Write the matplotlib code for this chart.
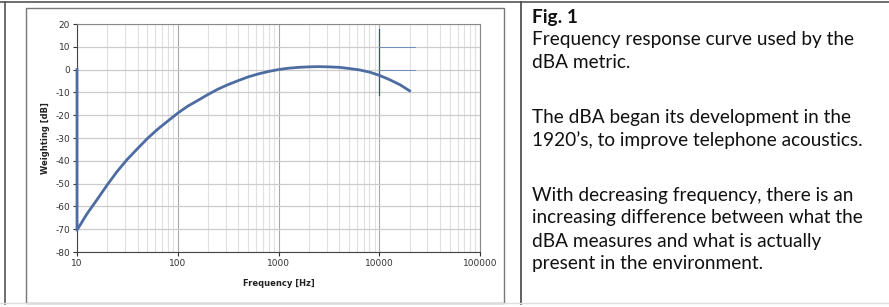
import matplotlib
matplotlib.use('Agg')

import matplotlib.pyplot as plt
from matplotlib.lines import Line2D
from matplotlib.patches import Rectangle
from matplotlib.ticker import FixedLocator, NullFormatter

# A-weighting values
freq = [10, 10, 12.5, 16, 20, 25, 31.5, 40, 50, 63, 80, 100, 125, 160, 200,
        250, 315, 400, 500, 630, 800, 1000, 1250, 1600, 2000, 2500, 3150,
        4000, 5000, 6300, 8000, 10000, 12500, 16000, 20000]
weight = [0, -70.4, -63.4, -56.7, -50.5, -44.7, -39.4, -34.6, -30.2, -26.2,
          -22.5, -19.1, -16.1, -13.4, -10.9, -8.6, -6.6, -4.8, -3.2, -1.9,
          -0.8, 0.0, 0.6, 1.0, 1.2, 1.3, 1.2, 1.0, 0.5, -0.1, -1.1, -2.5,
          -4.3, -6.6, -9.3]

# stray marker lines near 10 kHz
mark_x = [10000, 10000]
mark_y = [18, -11]
hline_x = [10000, 22500]
hline_y = [10, 0]

yticks = [20, 10, 0, -10, -20, -30, -40, -50, -60, -70, -80]
xticks = [10, 100, 1000, 10000, 100000]
xticklabels = ['10', '100', '1000', '10000', '100000']

caption = [('Fig. 1', 'bold', 17),
           ('Frequency response curve used by the', 'normal', 40),
           ('dBA metric.', 'normal', 62),
           ('The dBA began its development in the', 'normal', 118),
           ('1920\u2019s, to improve telephone acoustics.', 'normal', 140),
           ('With decreasing frequency, there is an', 'normal', 196),
           ('increasing difference between what the', 'normal', 218),
           ('dBA measures and what is actually', 'normal', 241),
           ('present in the environment.', 'normal', 264)]

W, H = 889, 307


def fx(px):
    return px / W


def fy(py):
    return 1 - py / H


fig = plt.figure(figsize=(W / 100, H / 100), dpi=100)

# table borders
fig.add_artist(Line2D([0, 1], [fy(1.5), fy(1.5)], color='#555555', lw=1.2))
fig.add_artist(Line2D([fx(5), fx(5)], [fy(1.5), fy(304)], color='#555555', lw=1.2))
fig.add_artist(Line2D([fx(521), fx(521)], [fy(1.5), fy(304)], color='#444444', lw=1.2))
fig.add_artist(Line2D([0, 1], [fy(303), fy(303)], color='#dddddd', lw=1.0))

# chart frame
fig.add_artist(Rectangle((fx(26), fy(303)), fx(504 - 26), (303 - 8) / H,
                         fill=False, edgecolor='#777777', lw=1.0))

ax = fig.add_axes([fx(77), fy(252), fx(480 - 77), (252 - 24) / H])
ax.set_xscale('log')
ax.set_xlim(10, 100000)
ax.set_ylim(-80, 20)

ax.xaxis.set_major_locator(FixedLocator(xticks))
ax.set_xticklabels(xticklabels)
minors = [m * 10 ** d for d in range(1, 5) for m in range(2, 10)]
ax.xaxis.set_minor_locator(FixedLocator(minors))
ax.xaxis.set_minor_formatter(NullFormatter())
ax.set_yticks(yticks)
ax.set_yticklabels([str(v) for v in yticks])

ax.grid(True, which='major', axis='x', color='#a8a8a8', lw=0.8)
ax.grid(True, which='minor', axis='x', color='#e0e0e0', lw=0.8)
ax.grid(True, which='major', axis='y', color='#cccccc', lw=0.9)
ax.set_axisbelow(True)

ax.tick_params(axis='both', which='major', labelsize=6.5, length=3, width=0.8,
               colors='#333333', pad=2)
ax.tick_params(axis='x', which='minor', length=0)
for s in ['top', 'right']:
    ax.spines[s].set_color('#888888')
for s in ['left', 'bottom']:
    ax.spines[s].set_color('#444444')

ax.plot(freq, weight, color='#4d6ca1', lw=2.0, solid_joinstyle='round',
        zorder=5, clip_on=False)
ax.plot(mark_x, mark_y, color='#3a5585', lw=0.9)
for yv in hline_y:
    ax.plot(hline_x, [yv, yv], color='#6f8fc0', lw=0.7)

ax.set_xlabel('Frequency [Hz]', fontsize=6, fontweight='bold', labelpad=8,
              color='#222222')
ax.set_ylabel('Weighting [dB]', fontsize=6, fontweight='bold', labelpad=4,
              color='#222222')

for txt, wt, py in caption:
    fig.text(fx(532), fy(py), txt, fontsize=13.7, fontweight=wt,
             family=['Lato', 'DejaVu Sans'], va='center', ha='left',
             color='#111111')

fig.savefig('out.png', dpi=100)
